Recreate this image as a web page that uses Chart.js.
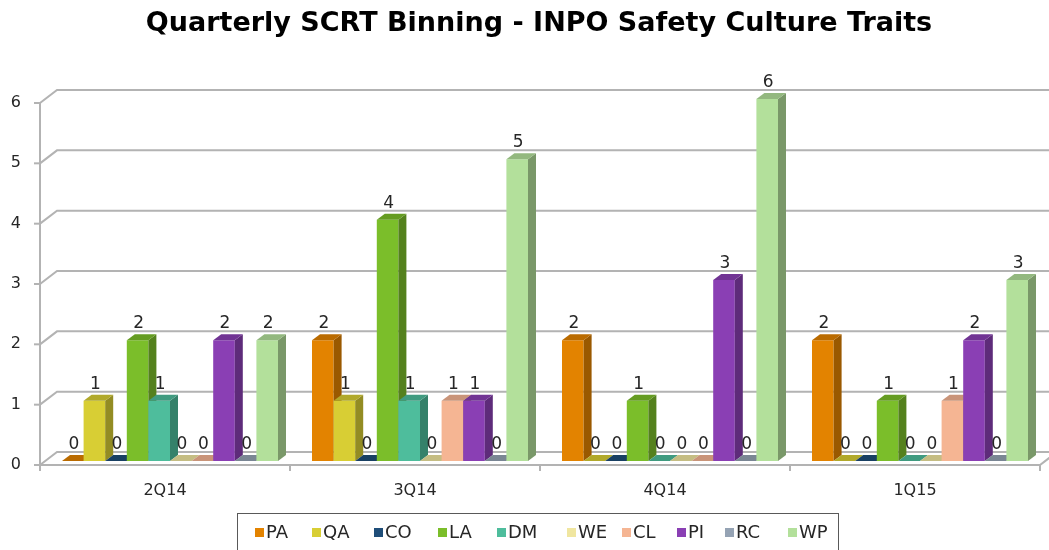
<!DOCTYPE html>
<html>
<head>
<meta charset="utf-8">
<script src="https://cdn.jsdelivr.net/npm/chart.js@4.4.1/dist/chart.umd.min.js"></script>
<style>
html,body{margin:0;padding:0;background:#fff;}
#wrap{width:1049px;height:550px;position:relative;}
</style>
</head>
<body>
<div id="wrap"><canvas id="c" width="1049" height="550"></canvas></div>
<script>
// ---- data ----
const titleText = 'Quarterly SCRT Binning - INPO Safety Culture Traits';
const categories = ['2Q14', '3Q14', '4Q14', '1Q15'];
const seriesNames = ['PA', 'QA', 'CO', 'LA', 'DM', 'WE', 'CL', 'PI', 'RC', 'WP'];
const PA = [0, 2, 2, 2];
const QA = [1, 1, 0, 0];
const CO = [0, 0, 0, 0];
const LA = [2, 4, 1, 1];
const DM = [1, 1, 0, 0];
const WE = [0, 0, 0, 0];
const CL = [0, 1, 0, 1];
const PI = [2, 1, 3, 2];
const RC = [0, 0, 0, 0];
const WP = [2, 5, 6, 3];
const yMin = 0, yMax = 6, yStep = 1;

// ---- styles ----
const seriesValues = [PA, QA, CO, LA, DM, WE, CL, PI, RC, WP];
const seriesColors = ['#E38300', '#D8CE34', '#1F4E79', '#7BBE2A', '#4EBD9C', '#F0E6A0', '#F5B593', '#8A3FB4', '#95A3B4', '#B3E09B'];
const legendSquareX = [255, 312, 374, 438, 497, 567, 622, 677, 725, 788];
const FONT = '"DejaVu Sans", sans-serif';
const DEPTH_X = 8, DEPTH_Y = 6;     // bar depth
const BACK_X = 17, BACK_Y = 13;     // wall depth
const SHIFT_X = 5, SHIFT_Y = 4;     // bars sit slightly behind front plane
const GRID = '#B3B3B3';

function shade(hex, f) {
  const n = parseInt(hex.slice(1), 16);
  const r = Math.round(((n >> 16) & 255) * f), g = Math.round(((n >> 8) & 255) * f), b = Math.round((n & 255) * f);
  return 'rgb(' + r + ',' + g + ',' + b + ')';
}

function drawFaces(ctx, meta) {
  const base = seriesColors[meta.index];
  meta.data.forEach(bar => {
    const p = bar.getProps(['x', 'y', 'base', 'width'], true);
    const l = p.x - p.width / 2, r = p.x + p.width / 2, top = Math.min(p.y, p.base), bot = p.base;
    ctx.fillStyle = shade(base, 0.68);
    ctx.beginPath();
    ctx.moveTo(r, top); ctx.lineTo(r + DEPTH_X, top - DEPTH_Y);
    ctx.lineTo(r + DEPTH_X, bot - DEPTH_Y); ctx.lineTo(r, bot); ctx.closePath(); ctx.fill();
    ctx.fillStyle = shade(base, 0.82);
    ctx.beginPath();
    ctx.moveTo(l, top); ctx.lineTo(l + DEPTH_X, top - DEPTH_Y);
    ctx.lineTo(r + DEPTH_X, top - DEPTH_Y); ctx.lineTo(r, top); ctx.closePath(); ctx.fill();
  });
}

const threeD = {
  id: 'threeD',
  beforeDatasetsDraw(chart) {
    const ctx = chart.ctx, a = chart.chartArea, ys = chart.scales.y, xs = chart.scales.x;
    ctx.save();
    ctx.strokeStyle = GRID;
    ctx.lineWidth = 2;
    ctx.lineCap = 'butt';
    ys.ticks.forEach(t => {
      const fy = ys.getPixelForValue(t.value);
      ctx.beginPath();
      ctx.moveTo(a.left, fy);
      ctx.lineTo(a.left + BACK_X, fy - BACK_Y);
      ctx.lineTo(chart.width + 5, fy - BACK_Y);
      ctx.stroke();
      ctx.beginPath();
      ctx.moveTo(a.left - 6, fy);
      ctx.lineTo(a.left, fy);
      ctx.stroke();
    });
    const f0 = ys.getPixelForValue(yMin);
    ctx.beginPath();
    ctx.moveTo(a.left, f0);
    ctx.lineTo(a.right, f0);
    ctx.lineTo(a.right + BACK_X, f0 - BACK_Y);
    ctx.stroke();
    ctx.beginPath();
    ctx.moveTo(a.left, ys.getPixelForValue(yMax));
    ctx.lineTo(a.left, f0 + 6);
    ctx.stroke();
    const n = xs.ticks.length;
    for (let i = 1; i <= n; i++) {
      const x = i < n ? (xs.getPixelForTick(i - 1) + xs.getPixelForTick(i)) / 2 : a.right;
      ctx.beginPath();
      ctx.moveTo(x, f0);
      ctx.lineTo(x, f0 + 6);
      ctx.stroke();
    }
    ctx.restore();
  },
  beforeDatasetDraw() {
    return false; // drawn in order below, left to right, for correct 3D overlap
  },
  afterDatasetsDraw(chart) {
    const ctx = chart.ctx;
    ctx.save();
    ctx.translate(SHIFT_X, -SHIFT_Y);
    chart.data.datasets.forEach((ds, i) => {
      const meta = chart.getDatasetMeta(i);
      meta.controller.draw();
      drawFaces(ctx, meta);
    });
    ctx.fillStyle = '#262626';
    ctx.font = '17px ' + FONT;
    ctx.textAlign = 'center';
    ctx.textBaseline = 'alphabetic';
    chart.data.datasets.forEach((ds, i) => {
      const meta = chart.getDatasetMeta(i);
      meta.data.forEach((bar, j) => {
        const p = bar.getProps(['x', 'y'], true);
        ctx.fillText(String(ds.data[j]), p.x + 1, p.y - 12);
      });
    });
    ctx.restore();
  },
  afterDraw(chart) {
    const ctx = chart.ctx;
    ctx.save();
    ctx.fillStyle = '#000';
    ctx.font = 'bold 27px ' + FONT;
    ctx.textAlign = 'center';
    ctx.textBaseline = 'alphabetic';
    ctx.fillText(titleText, 539, 31);
    ctx.strokeStyle = '#595959';
    ctx.lineWidth = 1;
    ctx.strokeRect(237.5, 513.5, 601, 60);
    ctx.font = '18px ' + FONT;
    ctx.textAlign = 'left';
    ctx.textBaseline = 'middle';
    seriesNames.forEach((name, i) => {
      ctx.fillStyle = seriesColors[i];
      ctx.fillRect(legendSquareX[i], 528, 9, 9);
      ctx.fillStyle = '#262626';
      ctx.fillText(name, legendSquareX[i] + 11, 533);
    });
    ctx.restore();
  }
};

const datasets = seriesNames.map((name, i) => ({
  label: name,
  data: seriesValues[i],
  backgroundColor: seriesColors[i],
  borderWidth: 0,
  clip: false,
  categoryPercentage: 0.864,
  barPercentage: 1.0
}));

new Chart(document.getElementById('c'), {
  type: 'bar',
  data: { labels: categories, datasets: datasets },
  options: {
    responsive: false,
    animation: false,
    devicePixelRatio: 1,
    layout: { padding: { top: 103, right: 9, bottom: 45, left: 0 } },
    plugins: { legend: { display: false }, title: { display: false }, tooltip: { enabled: false } },
    scales: {
      x: {
        grid: { display: false, drawTicks: false },
        border: { display: false },
        ticks: { color: '#262626', font: { family: FONT, size: 16 }, padding: 16, maxRotation: 0 },
        afterFit(s) { s.height = 40; }
      },
      y: {
        min: yMin, max: yMax,
        grid: { display: false, drawTicks: false },
        border: { display: false },
        ticks: { stepSize: yStep, color: '#262626', font: { family: FONT, size: 16 }, padding: 19 },
        afterFit(s) { s.width = 40; }
      }
    }
  },
  plugins: [threeD]
});
</script>
</body>
</html>
